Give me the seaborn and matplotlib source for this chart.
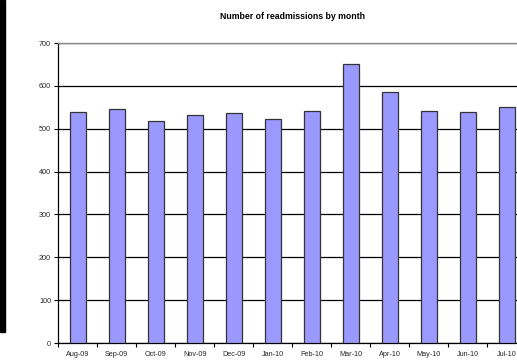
import matplotlib
matplotlib.use("Agg")
import matplotlib.pyplot as plt
import seaborn as sns
import pandas as pd
from matplotlib.patches import Rectangle
from matplotlib.ticker import FixedLocator, MultipleLocator

months = ["Aug-09", "Sep-09", "Oct-09", "Nov-09", "Dec-09", "Jan-10",
          "Feb-10", "Mar-10", "Apr-10", "May-10", "Jun-10", "Jul-10"]
readmissions = [538, 546, 517, 532, 537, 522, 541, 650, 585, 541, 540, 550]

df = pd.DataFrame({"month": months, "readmissions": readmissions})

sns.set_style("white")
plt.rcParams["font.family"] = ["Liberation Sans", "DejaVu Sans"]

fig = plt.figure(figsize=(5.17, 3.6), dpi=100)
ax = fig.add_axes([58 / 517, 17 / 360, 468.5 / 517, 300 / 360])

sns.barplot(data=df, x="month", y="readmissions", ax=ax, color="#9999FF",
            saturation=1, width=0.41, edgecolor="#333333", linewidth=0.9,
            zorder=3)

ax.set_ylim(0, 700)
ax.set_xlim(-0.5, len(months) - 0.5)
ax.yaxis.set_major_locator(MultipleLocator(100))
ax.grid(axis="y", color="black", linewidth=0.9, zorder=0)
ax.set_axisbelow(True)

ax.spines["right"].set_visible(False)
ax.spines["top"].set_color("#8a8a8a")
ax.spines["top"].set_linewidth(1.0)
ax.spines["left"].set_color("black")
ax.spines["bottom"].set_color("black")
ax.spines["left"].set_linewidth(0.9)
ax.spines["bottom"].set_linewidth(0.9)

# category separators as tick marks below the axis
ax.xaxis.set_minor_locator(FixedLocator([i - 0.5 for i in range(len(months) + 1)]))
ax.tick_params(axis="x", which="major", length=0, pad=5.5, labelsize=5.2)
ax.tick_params(axis="x", which="minor", length=3, width=0.8, direction="out",
               color="black", bottom=True)
ax.tick_params(axis="y", which="major", length=3, width=0.8, direction="out",
               color="black", left=True, labelsize=5.2, pad=2)

ax.set_xlabel("")
ax.set_ylabel("")
ax.set_title("Number of readmissions by month", fontsize=6.3,
             fontweight="bold", pad=17, color="black")

# dark strip along the left edge
fig.patches.append(Rectangle((0, 28 / 360), 5 / 517, 1 - 28 / 360,
                             transform=fig.transFigure, color="black",
                             zorder=10))

fig.savefig("out.png", dpi=100)
